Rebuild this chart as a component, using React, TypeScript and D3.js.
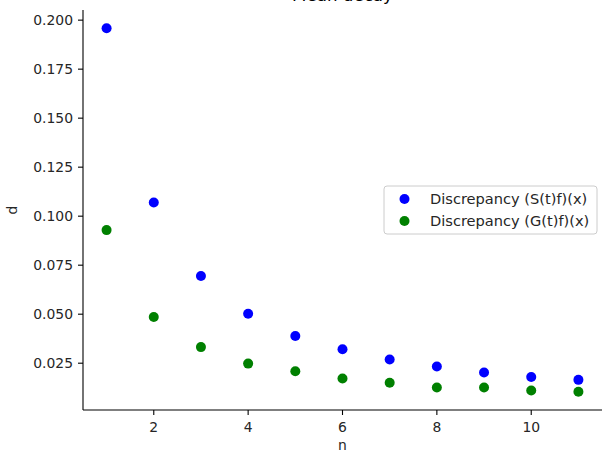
import React from "react";
import * as d3 from "d3";

const nValues = [1, 2, 3, 4, 5, 6, 7, 8, 9, 10, 11];
const discS = [0.1959, 0.107, 0.0695, 0.0502, 0.0389, 0.0321, 0.0269, 0.0233, 0.0203, 0.018, 0.0165];
const discG = [0.0929, 0.0486, 0.0332, 0.0248, 0.0209, 0.0172, 0.015, 0.0126, 0.0126, 0.0111, 0.0104];
const xTicks = [2, 4, 6, 8, 10];
const yTicks = [0.025, 0.05, 0.075, 0.1, 0.125, 0.15, 0.175, 0.2];
const seriesNames = ["Discrepancy (S(t)f)(x)", "Discrepancy (G(t)f)(x)"];
const seriesColors = ["#0000ff", "#008000"];
const titleText = "Mean decay";

export default function App() {
  const W = 603, H = 452;
  const left = 83, right = 602, top = 10, bottom = 410;
  const all = [...discS, ...discG];
  const mn = d3.min(all)!, mx = d3.max(all)!;
  const m = (mx - mn) * 0.05;
  const x = d3.scaleLinear().domain([0.5, 11.5]).range([left, right]);
  const y = d3.scaleLinear().domain([mn - m, mx + m]).range([bottom, top]);
  const font = "DejaVu Sans, sans-serif";
  const fs = 13.9;
  const series = [discS, discG];
  return (
    <svg width={W} height={H} style={{ position: "absolute", left: 0, top: 0 }}>
      <rect width={W} height={H} fill="#fff" />
      <text x={(left + right) / 2} y={1} textAnchor="middle" fontFamily={font} fontSize={16.7} fill="#000">{titleText}</text>
      {series.map((s, si) =>
        s.map((v, i) => (
          <circle key={`${si}-${i}`} cx={x(nValues[i])} cy={y(v)} r={5} fill={seriesColors[si]} />
        ))
      )}
      <line x1={left} x2={left} y1={top} y2={bottom} stroke="#000" strokeWidth={1.1} />
      <line x1={left} x2={right} y1={bottom} y2={bottom} stroke="#000" strokeWidth={1.1} />
      {yTicks.map((t) => (
        <g key={t}>
          <line x1={left - 5} x2={left} y1={y(t)} y2={y(t)} stroke="#000" strokeWidth={1.1} />
          <text x={left - 10} y={y(t)} dy="0.35em" textAnchor="end" fontFamily={font} fontSize={fs} fill="#262626">{t.toFixed(3)}</text>
        </g>
      ))}
      {xTicks.map((t) => (
        <g key={t}>
          <line x1={x(t)} x2={x(t)} y1={bottom} y2={bottom + 5} stroke="#000" strokeWidth={1.1} />
          <text x={x(t)} y={bottom + 22} textAnchor="middle" fontFamily={font} fontSize={fs} fill="#262626">{t}</text>
        </g>
      ))}
      <text x={(left + right) / 2} y={450} textAnchor="middle" fontFamily={font} fontSize={fs} fill="#262626">n</text>
      <text transform={`translate(17,${(top + bottom) / 2}) rotate(-90)`} textAnchor="middle" fontFamily={font} fontSize={fs} fill="#262626">d</text>
      <g>
        <rect x={384} y={186} width={213} height={48} rx={3} fill="#fff" fillOpacity={0.8} stroke="#cccccc" strokeWidth={1} />
        {seriesNames.map((name, i) => (
          <g key={name}>
            <circle cx={404.5} cy={199 + i * 22} r={5} fill={seriesColors[i]} />
            <text x={430} y={199 + i * 22} dy="0.35em" fontFamily={font} fontSize={14.6} fill="#262626">{name}</text>
          </g>
        ))}
      </g>
    </svg>
  );
}
